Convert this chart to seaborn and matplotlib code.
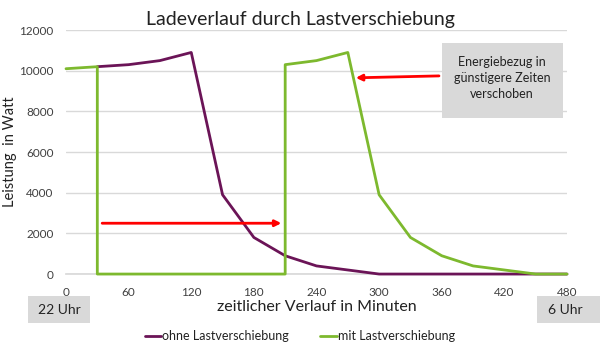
import numpy as np
import pandas as pd
import matplotlib
matplotlib.use("Agg")
import matplotlib.pyplot as plt
import seaborn as sns

# Data
ohne_x = [30, 60, 90, 120, 150, 180, 210, 240, 270, 300, 330, 360, 390, 420, 450, 480]
ohne_y = [10200, 10300, 10500, 10900, 3900, 1800, 900, 400, 200, 0, 0, 0, 0, 0, 0, 0]
mit_x = [0, 30, 30, 210, 210, 240, 270, 300, 330, 360, 390, 420, 450, 480]
mit_y = [10100, 10200, 0, 0, 10300, 10500, 10900, 3900, 1800, 900, 400, 200, 0, 0]
x_ticks = [0, 60, 120, 180, 240, 300, 360, 420, 480]
y_ticks = [0, 2000, 4000, 6000, 8000, 10000, 12000]

title = "Ladeverlauf durch Lastverschiebung"
label_ohne = "ohne Lastverschiebung"
label_mit = "mit Lastverschiebung"
xlabel = "zeitlicher Verlauf in Minuten"
ylabel = "Leistung  in Watt"
box_text = "Energiebezug in\ngünstigere Zeiten\nverschoben"
start_label = "22 Uhr"
end_label = "6 Uhr"
arrow1 = ((32, 2500), (209, 2500))
arrow2 = ((360, 9750), (275, 9650))

sns.set_theme(style="white")
plt.rcParams['font.family'] = ['Lato', 'DejaVu Sans']

purple = "#6B1457"
green = "#7DB92E"

fig = plt.figure(figsize=(6, 3.5), dpi=100)
ax = fig.add_axes([0.11, 0.217, 0.835, 0.697])

df_ohne = pd.DataFrame({"x": ohne_x, "y": ohne_y, "s": label_ohne})
df_mit = pd.DataFrame({"x": mit_x, "y": mit_y, "s": label_mit})
sns.lineplot(data=df_ohne, x="x", y="y", sort=False, estimator=None, color=purple,
             linewidth=2, ax=ax, label=label_ohne)
sns.lineplot(data=df_mit, x="x", y="y", sort=False, estimator=None, color=green,
             linewidth=2, ax=ax, label=label_mit)
for ln in ax.get_lines():
    ln.set_clip_on(False)
    ln.set_zorder(3)

ax.set_xlim(0, 480)
ax.set_ylim(0, 12000)
ax.set_xticks(x_ticks)
ax.set_yticks(y_ticks)
ax.tick_params(axis='both', length=0, labelsize=8.5, colors="#404040", pad=9)
ax.grid(axis='y', color="#D9D9D9", linewidth=1)
ax.set_axisbelow(True)
for s in ["top", "right", "left"]:
    ax.spines[s].set_visible(False)
ax.spines["bottom"].set_color("#D9D9D9")
ax.spines["bottom"].set_zorder(1)

ax.set_xlabel(xlabel, fontsize=11.5, color="#222222", labelpad=2)
ax.set_ylabel(ylabel, fontsize=10.5, color="#222222")
ax.yaxis.set_label_coords(-0.098, 0.5)
fig.text(0.5, 0.945, title, ha="center", va="center", fontsize=14, color="#222222")

ax.annotate("", xy=arrow1[1], xytext=arrow1[0],
            arrowprops=dict(arrowstyle="-|>", color="#FF0000", lw=2, mutation_scale=9))
ax.annotate("", xy=arrow2[1], xytext=arrow2[0],
            arrowprops=dict(arrowstyle="-|>", color="#FF0000", lw=2, mutation_scale=9))

# annotation box
fig.patches.append(plt.Rectangle((442/600, 1-118/350), 121/600, 75/350,
                                 transform=fig.transFigure, facecolor="#D9D9D9",
                                 edgecolor="none", zorder=5))
fig.text(502/600, 1-78/350, box_text, ha="center", va="center", fontsize=9,
         color="#222222", linespacing=1.45, zorder=6)

fig.patches.append(plt.Rectangle((28/600, 1-323/350), 62/600, 27/350,
                                 transform=fig.transFigure, facecolor="#D9D9D9",
                                 edgecolor="none"))
fig.text(59/600, 1-310/350, start_label, ha="center", va="center", fontsize=10, color="#222222")
fig.patches.append(plt.Rectangle((537/600, 1-323/350), 63/600, 27/350,
                                 transform=fig.transFigure, facecolor="#D9D9D9",
                                 edgecolor="none"))
fig.text(565/600, 1-310/350, end_label, ha="center", va="center", fontsize=10, color="#222222")

leg = ax.legend(loc="center", bbox_to_anchor=(0.5, 0.04), bbox_transform=fig.transFigure,
                ncol=2, frameon=False, fontsize=9, handlelength=1.3, handletextpad=0.1,
                columnspacing=2.5)
for t in leg.get_texts():
    t.set_color("#222222")

fig.savefig("out.png", dpi=100, facecolor="white")
